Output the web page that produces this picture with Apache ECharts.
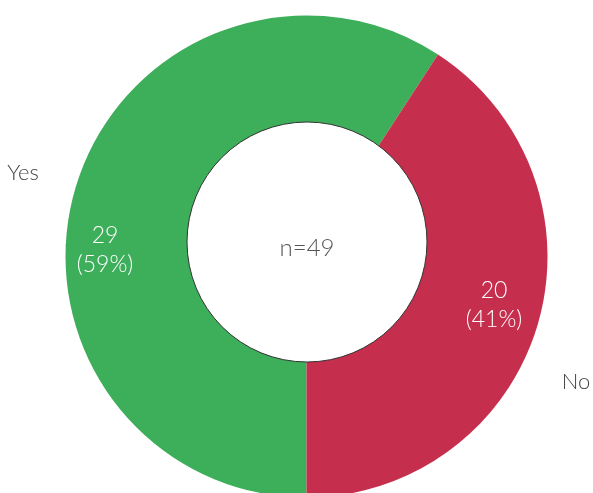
<!DOCTYPE html>
<html>
<head>
<meta charset="utf-8">
<script src="https://cdn.jsdelivr.net/npm/echarts@6/dist/echarts.min.js"></script>
<style>
    html, body { margin: 0; padding: 0; background: #fff; }
    #main { width: 593px; height: 493px; }
</style>
</head>
<body>
<div id="main"></div>
<script>
var categories = ['Yes', 'No'];
var counts = [29, 20];
var colors = ['#3dae5a', '#c62e4e'];

var total = 0;
for (var i = 0; i < counts.length; i++) {
    total += counts[i];
}

var pieData = [];
for (var i = 0; i < categories.length; i++) {
    pieData.push({ name: categories[i], value: counts[i], itemStyle: { color: colors[i] } });
}

// where the value labels and the name labels sit
var valuePos = [[105, 250], [494, 305]];
var namePos = [[23, 173], [576, 382]];

var myChart = echarts.init(document.getElementById('main'));
var option = {
    animation: false,
    series: [{
        type: 'pie',
        center: [306.5, 256.5],
        radius: [0, 241],
        startAngle: -90,
        clockwise: true,
        silent: true,
        data: pieData,
        label: {
            show: true,
            position: 'inside',
            color: '#fff',
            fontFamily: 'Lato',
            fontWeight: 300,
            fontSize: 23,
            lineHeight: 29,
            formatter: function (p) {
                return p.value + '\n(' + Math.round(p.percent) + '%)';
            }
        },
        labelLayout: function (p) {
            return { x: valuePos[p.dataIndex][0], y: valuePos[p.dataIndex][1], align: 'center', verticalAlign: 'middle' };
        },
        z: 1
    }, {
        type: 'pie',
        center: [306.5, 256.5],
        radius: [0, 241],
        startAngle: -90,
        clockwise: true,
        silent: true,
        data: pieData.map(function (d) { return { name: d.name, value: d.value }; }),
        itemStyle: { color: 'rgba(0,0,0,0)' },
        label: {
            show: true,
            position: 'outside',
            overflow: 'none',
            color: '#444',
            fontFamily: 'Lato',
            fontWeight: 300,
            fontSize: 22,
            formatter: '{b}'
        },
        labelLine: { show: false },
        labelLayout: function (p) {
            return { x: namePos[p.dataIndex][0], y: namePos[p.dataIndex][1], align: 'center', verticalAlign: 'middle', hideOverlap: false };
        },
        z: 2
    }, {
        type: 'pie',
        center: [307, 242],
        radius: [0, 120],
        silent: true,
        data: [{ name: 'n', value: total }],
        itemStyle: { color: '#fff', borderColor: '#333', borderWidth: 1 },
        label: {
            show: true,
            position: 'center',
            offset: [0, 6],
            color: '#555',
            fontFamily: 'Lato',
            fontWeight: 300,
            fontSize: 24,
            formatter: 'n=' + total
        },
        labelLine: { show: false },
        z: 3
    }]
};
myChart.setOption(option);
</script>
</body>
</html>
